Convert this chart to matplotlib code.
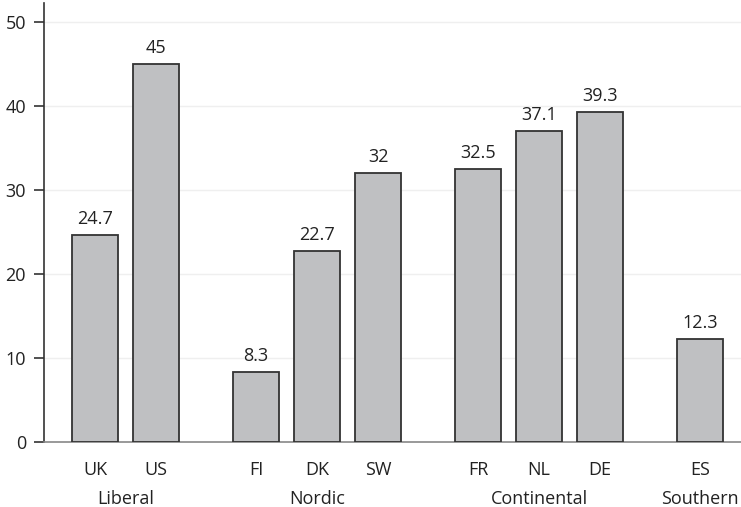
import matplotlib
matplotlib.use("Agg")
import matplotlib.pyplot as plt
from matplotlib.transforms import blended_transform_factory

plt.rcParams['font.family'] = ['Open Sans', 'DejaVu Sans']

countries = ["UK", "US", "FI", "DK", "SW", "FR", "NL", "DE", "ES"]
values = [24.7, 45, 8.3, 22.7, 32, 32.5, 37.1, 39.3, 12.3]
value_labels = ["24.7", "45", "8.3", "22.7", "32", "32.5", "37.1", "39.3", "12.3"]
groups = ["Liberal", "Nordic", "Continental", "Southern"]
group_members = [[0, 1], [2, 3, 4], [5, 6, 7], [8]]
yticks = [0, 10, 20, 30, 40, 50]

gap = 0.64
positions = []
p = 0.0
for gi, members in enumerate(group_members):
    for k, _ in enumerate(members):
        positions.append(p)
        p += 1
    p += gap

fig = plt.figure(figsize=(7.41, 5.07), dpi=100)
ax = fig.add_axes([0.0594, 0.1282, 0.9406, 0.866])

ax.bar(positions, values, width=0.754, color="#bfc0c2", edgecolor="#333333", linewidth=1.3, zorder=3)

for x, v, lab in zip(positions, values, value_labels):
    ax.annotate(lab, (x, v), xytext=(0, 5), textcoords="offset points",
                ha="center", va="bottom", fontsize=13, color="#222222")

ax.set_xlim(-0.836, 10.59)
ax.set_ylim(0, 52.3)
ax.set_yticks(yticks)
ax.set_yticklabels([str(t) for t in yticks], fontsize=13, color="#222222")
ax.tick_params(axis="y", length=7, width=1.2, color="#333333", pad=6)
for t in yticks[1:]:
    ax.axhline(t, color="#efefef", linewidth=1, zorder=0)

ax.set_xticks(positions)
ax.set_xticklabels(countries, fontsize=13, color="#222222")
ax.tick_params(axis="x", length=0, pad=14)

for s in ["top", "right"]:
    ax.spines[s].set_visible(False)
ax.spines["left"].set_color("#333333")
ax.spines["left"].set_linewidth(1.2)
ax.spines["bottom"].set_color("#888888")
ax.spines["bottom"].set_linewidth(1.2)

trans = blended_transform_factory(ax.transData, fig.transFigure)
for g, members in zip(groups, group_members):
    cx = sum(positions[m] for m in members) / len(members)
    ax.text(cx, 1 - 499 / 507, g, transform=trans, ha="center", va="center",
            fontsize=13, color="#222222")

fig.savefig("out.png", dpi=100)
